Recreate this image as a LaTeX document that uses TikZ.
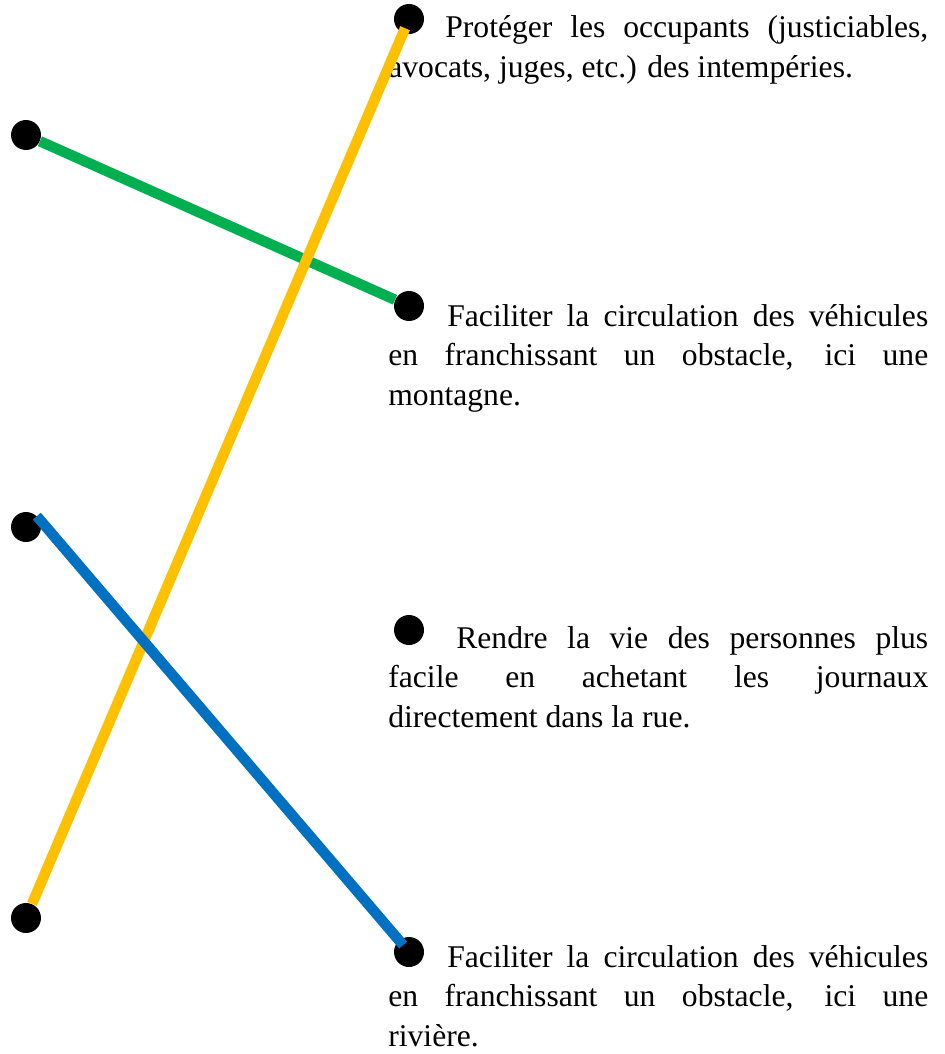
\documentclass[tikz,border=0pt]{standalone}
\usepackage{fontspec}
\setmainfont{Liberation Serif}
\usepackage{tikz}
\usetikzlibrary{positioning}
\definecolor{linegreen}{HTML}{00B050}
\definecolor{lineyellow}{HTML}{FFC000}
\definecolor{lineblue}{HTML}{0070C0}
\tikzstyle{blob} = [
    circle, fill=black, inner sep=0pt, minimum size=0.6cm
]
\tikzstyle{answer} = [
    anchor=base west, inner sep=0pt, text width=10.8cm, align=justify,
    font=\fontsize{18}{22.6}\selectfont
]
\tikzstyle{match} = [line width=0.21cm]

\begin{document}
\begin{tikzpicture}[x=0.02cm, y=-0.02cm]
        \useasboundingbox (0,0) rectangle (944,1054);
        % left column
        \node (left1) [blob] at (26,135) {};
        \node (left2) [blob] at (26,527) {};
        \node (left3) [blob] at (26,918) {};
        % right column
        \node (right1) [blob] at (409,19) {};
        \node (right2) [blob] at (409,306) {};
        \node (right3) [blob] at (409,630) {};
        \node (right4) [blob] at (409,952) {};

        \node (text1) [answer] at (388,38)
            {\hspace*{1.14cm}Protéger les occupants (justiciables,\linebreak
            avocats, juges, etc.) des intempéries.};
        \node (text2) [answer] at (388,326)
            {\hspace*{1.18cm}Faciliter la circulation des véhicules\linebreak
            en franchissant un obstacle, ici une\linebreak montagne.};
        \node (text3) [answer] at (388,648)
            {\hspace*{1.36cm}Rendre la vie des personnes plus\linebreak
            facile en achetant les journaux\linebreak
            directement dans la rue.};
        \node (text4) [answer] at (388,967)
            {\hspace*{1.18cm}Faciliter la circulation des véhicules\linebreak
            en franchissant un obstacle, ici une\linebreak rivière.};

        \draw [match, linegreen] (left1) -- (right2);
        \draw [match, lineyellow, shorten <=0.2cm] (right1.center) -- (left3);
        \draw [match, lineblue, shorten >=0.18cm] (left2.45) -- (right4.center);
    \end{tikzpicture}
\end{document}
